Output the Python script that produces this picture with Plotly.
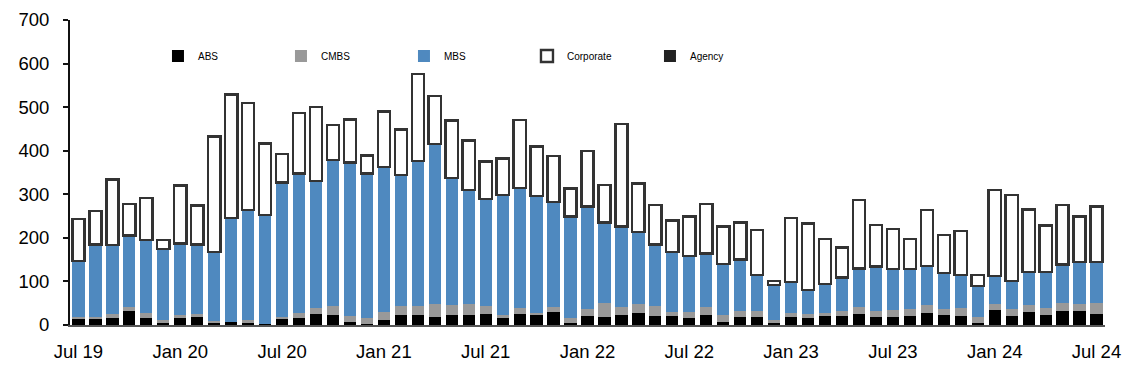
import plotly.graph_objects as go

months = ["Jul 19","Aug 19","Sep 19","Oct 19","Nov 19","Dec 19",
          "Jan 20","Feb 20","Mar 20","Apr 20","May 20","Jun 20",
          "Jul 20","Aug 20","Sep 20","Oct 20","Nov 20","Dec 20",
          "Jan 21","Feb 21","Mar 21","Apr 21","May 21","Jun 21",
          "Jul 21","Aug 21","Sep 21","Oct 21","Nov 21","Dec 21",
          "Jan 22","Feb 22","Mar 22","Apr 22","May 22","Jun 22",
          "Jul 22","Aug 22","Sep 22","Oct 22","Nov 22","Dec 22",
          "Jan 23","Feb 23","Mar 23","Apr 23","May 23","Jun 23",
          "Jul 23","Aug 23","Sep 23","Oct 23","Nov 23","Dec 23",
          "Jan 24","Feb 24","Mar 24","Apr 24","May 24","Jun 24","Jul 24"]

# cumulative tops
abs_top  = [15,15,17,31,15,4, 17,19,6,8,5,2, 15,17,25,24,7,2, 11,23,23,19,23,23,
            25,17,25,24,29,5, 21,19,23,27,21,21, 15,24,8,18,18,4, 19,17,21,21,25,19,
            19,21,28,23,21,5, 34,21,29,24,31,31,25]
cmbs_top = [19,18,26,41,27,11, 23,25,9,8,11,2, 18,27,38,44,21,16, 29,44,44,48,46,48,
            44,23,38,27,41,15, 36,50,41,48,44,29, 29,41,24,33,33,11, 27,25,27,32,42,32,
            34,36,46,36,38,19, 48,36,47,39,50,48,50]
mbs_top  = [147,185,184,205,195,174, 187,185,168,245,264,252, 327,348,331,379,373,348,
            363,344,376,415,337,310, 289,299,314,296,282,249, 272,235,226,214,185,168,
            158,164,140,150,115,92, 99,80,94,109,130,134, 128,128,135,119,115,90,
            113,101,122,122,139,144,144]
total    = [243,262,334,278,291,195, 320,274,433,529,509,417, 393,486,500,459,472,389,
            490,449,576,526,469,423, 375,382,470,410,388,313, 399,322,461,325,275,240,
            249,278,226,235,218,101, 245,233,197,178,287,229, 221,197,264,206,216,115,
            310,298,265,228,275,249,272]

ABS = abs_top
CMBS = [c - a for c, a in zip(cmbs_top, abs_top)]
MBS = [m - c for m, c in zip(mbs_top, cmbs_top)]
Corporate = [t - m for t, m in zip(total, mbs_top)]
Agency = [0] * len(months)

x = list(range(len(months)))
tick_idx = list(range(0, len(months), 6))

fig = go.Figure()
fig.add_bar(x=x, y=ABS, name="ABS", marker=dict(color="#000000", line=dict(width=0)))
fig.add_bar(x=x, y=CMBS, name="CMBS", marker=dict(color="#999999", line=dict(width=0)))
fig.add_bar(x=x, y=MBS, name="MBS", marker=dict(color="#4F89BF", line=dict(width=0)))
fig.add_bar(x=x, y=Corporate, name="Corporate",
            marker=dict(color="#FFFFFF", line=dict(width=2.4, color="#333333")))
fig.add_bar(x=x, y=Agency, name="Agency",
            marker=dict(color="#222222", line=dict(width=0)))

fig.update_layout(
    barmode="stack",
    bargap=0.28,
    width=1140, height=377,
    margin=dict(l=62, r=43, t=12, b=60, autoexpand=False),
    paper_bgcolor="white", plot_bgcolor="white",
    font=dict(family="Arial, Liberation Sans, sans-serif", color="#000000"),
    showlegend=True,
    legend=dict(orientation="h", x=0.085, y=0.882, xanchor="left", yanchor="middle",
                font=dict(size=10, family="Liberation Sans Narrow, Arial Narrow, Liberation Sans"),
                entrywidth=78, entrywidthmode="pixels", itemwidth=30,
                bgcolor="rgba(0,0,0,0)", traceorder="normal"),
    xaxis=dict(range=[-0.5, len(months) - 0.5], tickmode="array",
               tickvals=tick_idx, ticktext=[months[i] for i in tick_idx],
               showline=True, linecolor="#555555", linewidth=2, ticks="",
               showgrid=False, zeroline=False, tickfont=dict(size=18.5),
               ticklabelstandoff=9, automargin=False),
    yaxis=dict(range=[0, 700], tickvals=list(range(0, 701, 100)),
               showline=True, linecolor="#111111", linewidth=2,
               ticks="outside", ticklen=5, tickcolor="#111111", tickwidth=2,
               showgrid=False, zeroline=False, tickfont=dict(size=18.5),
               ticklabelstandoff=10, automargin=False),
)

fig.write_html("out.html")
